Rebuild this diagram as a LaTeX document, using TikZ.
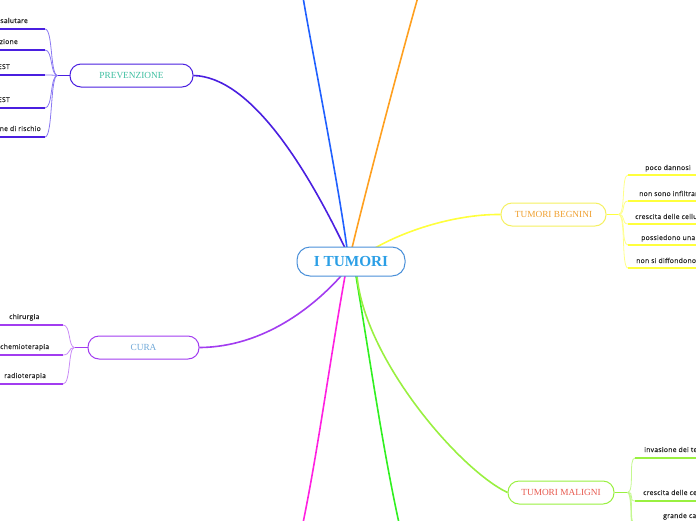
\documentclass[tikz,border=0pt]{standalone}
\usepackage{fontspec}
\setmainfont{Liberation Serif}
\newfontfamily\leaffont{Open Sans}[LetterSpace=4, FakeBold=0.5]
\usetikzlibrary{positioning}
\definecolor{rootblue}{HTML}{4A90D9}
\definecolor{roottext}{HTML}{2B9FE6}
\definecolor{prevline}{HTML}{4A1FE0}
\definecolor{prevtwig}{HTML}{8A78F2}
\definecolor{prevtext}{HTML}{3DBFA0}
\definecolor{curaline}{HTML}{A23CF0}
\definecolor{curatwig}{HTML}{C98CF6}
\definecolor{curatext}{HTML}{6FA8D8}
\definecolor{begline}{HTML}{FFFF3C}
\definecolor{begtwig}{HTML}{FFFF8A}
\definecolor{begborder}{HTML}{F5F060}
\definecolor{begtext}{HTML}{F0A030}
\definecolor{malline}{HTML}{99F040}
\definecolor{maltwig}{HTML}{C4F890}
\definecolor{maltext}{HTML}{E85A50}
\definecolor{topblue}{HTML}{2060FF}
\definecolor{toporange}{HTML}{FFA020}
\definecolor{botmagenta}{HTML}{FF20E0}
\definecolor{botgreen}{HTML}{30F020}

\begin{document}
\begin{tikzpicture}[x=1pt, y=-1pt,
  topic/.style={rectangle, draw, rounded corners=11pt, line width=1pt, fill=white, minimum height=23pt, inner sep=0pt, font=\fontsize{9.3}{10}\selectfont},
  leaf/.style={inner sep=0pt, text=black!85, font=\leaffont\fontsize{6.8}{8}\selectfont},
  branch/.style={line width=1.6pt},
  twig/.style={line width=0.8pt},
  bar/.style={line width=1.8pt}
]
\useasboundingbox (0,0) rectangle (696,520);
\clip (0,0) rectangle (696,520);

% cut-off branches
\coordinate (topend1) at (303,-3);
\coordinate (topend2) at (418,-3);
\coordinate (botend1) at (303,523);
\coordinate (botend2) at (399,523);

% topics
\node[topic, draw=prevline, text=prevtext, minimum width=123pt] (prev) at (131.5,75.5) {PREVENZIONE};
\node[topic, draw=curaline, text=curatext, minimum width=111pt] (cura) at (143.5,347.5) {CURA};
\node[topic, draw=begborder, text=begtext, minimum width=105pt] (beg) at (553.5,214.5) {TUMORI BEGNINI};
\node[topic, draw=malline, text=maltext, minimum width=106pt] (mal) at (561,492.5) {TUMORI MALIGNI};

% branches from the root
\draw[branch, topblue] (347,248) .. controls (336,170) and (310,40) .. (topend1);
\draw[branch, toporange] (352,248) .. controls (366,190) and (400,60) .. (topend2);
\draw[branch, botmagenta] (345,276) .. controls (330,360) and (318,450) .. (botend1);
\draw[branch, botgreen] (356,276) .. controls (370,360) and (383,450) .. (botend2);
\draw[branch, prevline] (prev.east) .. controls (250,77) and (305,165) .. (345,248);
\draw[branch, curaline] (cura.east) .. controls (265,347) and (315,305) .. (341,276);
\draw[branch, begline] (375,248) .. controls (410,228) and (460,214) .. (beg.west);
\draw[branch, malline] (357,276) .. controls (365,360) and (460,470) .. (mal.west);

\node[topic, draw=rootblue, text=roottext, minimum width=108pt, minimum height=29pt, rounded corners=13pt, font=\bfseries\fontsize{15.3}{16}\selectfont] (root) at (351,261.5) {I TUMORI};

% PREVENZIONE leaves
\coordinate (pb) at ([xshift=-12pt]prev.west);
\draw[twig, prevline] (prev.west) -- (pb);
\foreach \i/\y/\tx/\t in {1/29/28/salutare, 2/50/18/zione, 3/75/10/EST, 4/108/10/EST, 5/137/41/ne di rischio}{
  \coordinate (pe\i) at (45,\y);
  \coordinate (ps\i) at (-5,\y);
  \node[leaf, anchor=base east] (pt\i) at (\tx,\y-6) {\t};
  \draw[twig, prevtwig] (pe\i) .. controls (53,\y) and (50,75) .. (pb);
  \draw[bar, prevline] (ps\i) -- (pe\i);
}

% CURA leaves
\coordinate (cb) at ([xshift=-13pt]cura.west);
\draw[twig, curaline] (cura.west) -- (cb);
\foreach \i/\y/\tx/\t in {1/325/9/chirurgia, 2/355/0/chemioterapia, 3/384/4/radioterapia}{
  \coordinate (ce\i) at (63,\y);
  \coordinate (cs\i) at (-5,\y);
  \node[leaf, anchor=base west] (ct\i) at (\tx,\y-6) {\t};
  \draw[twig, curatwig] (ce\i) .. controls (71,\y) and (68,347) .. (cb);
  \draw[bar, curaline] (cs\i) -- (ce\i);
}

% TUMORI BEGNINI leaves
\coordinate (bb) at ([xshift=12pt]beg.east);
\draw[twig, begline] (beg.east) -- (bb);
\foreach \i/\y/\tx/\t in {1/175/645/poco dannosi, 2/201/639/non sono infiltranti, 3/224/635/crescita delle cellule, 4/245/641/possiedono una, 5/268/636/non si diffondono}{
  \coordinate (be\i) at (628,\y);
  \coordinate (bs\i) at (700,\y);
  \node[leaf, anchor=base west] (bt\i) at (\tx,\y-5) {\t};
  \draw[twig, begtwig] (bb) .. controls (626,214) and (621,\y) .. (be\i);
  \draw[bar, begline] (be\i) -- (bs\i);
}

% TUMORI MALIGNI leaves
\coordinate (mb) at ([xshift=13pt]mal.east);
\draw[twig, malline] (mal.east) -- (mb);
\foreach \i/\y/\tx/\t in {1/458/644/invasione dei tessuti, 2/501/643/crescita delle cellule, 3/524/663/grande capacit\`a}{
  \coordinate (me\i) at (635,\y);
  \coordinate (ms\i) at (700,\y);
  \node[leaf, anchor=base west] (mt\i) at (\tx,\y-6) {\t};
  \draw[twig, maltwig] (mb) .. controls (635,492) and (628,\y) .. (me\i);
  \draw[bar, malline] (me\i) -- (ms\i);
}
\coordinate (me4) at (635,560);
\coordinate (me5) at (635,600);
\draw[twig, maltwig] (mb) .. controls (635,492) and (628,560) .. (me4);
\draw[twig, maltwig] (mb) .. controls (635,492) and (628,600) .. (me5);
\end{tikzpicture}
\end{document}
